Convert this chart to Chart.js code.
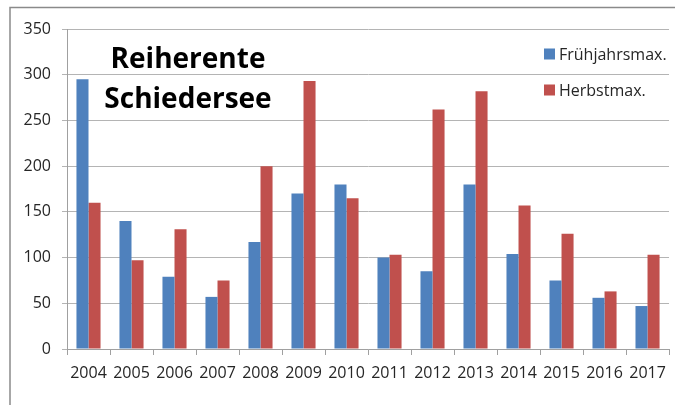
<!DOCTYPE html>
<html>
<head>
<meta charset="utf-8">
<script src="https://cdn.jsdelivr.net/npm/chart.js@4.4.0/dist/chart.umd.min.js"></script>
<style>
    html, body { margin: 0; padding: 0; background: #fff; }
    #wrap { position: relative; width: 675px; height: 405px; }
</style>
</head>
<body>
<div id="wrap"><canvas id="chart" width="675" height="405"></canvas></div>
<script>
// Daten
const jahre = ['2004', '2005', '2006', '2007', '2008', '2009', '2010', '2011', '2012', '2013', '2014', '2015', '2016', '2017'];
const fruehjahrsmax = [295, 140, 79, 57, 117, 170, 180, 100, 85, 180, 104, 75, 56, 47];
const herbstmax = [160, 97, 131, 75, 200, 293, 165, 103, 262, 282, 157, 126, 63, 103];
const titelZeilen = ['Reiherente', 'Schiedersee'];
const yTicks = [0, 50, 100, 150, 200, 250, 300, 350];

const BLAU = '#4F81BD';
const ROT = '#C0504D';
const SCHRIFT = '"Open Sans", "Liberation Sans", sans-serif';

// Rahmen, Titel und Legende im Diagrammbereich
const extrasPlugin = {
    id: 'extras',
    afterDraw(chart) {
        const ctx = chart.ctx;
        const area = chart.chartArea;
        ctx.save();

        // Rahmen oben und links
        ctx.strokeStyle = '#8a8a8a';
        ctx.lineWidth = 1.5;
        ctx.beginPath();
        ctx.moveTo(10, 405);
        ctx.lineTo(10, 7.5);
        ctx.lineTo(675, 7.5);
        ctx.stroke();

        // Titel
        ctx.fillStyle = '#000';
        ctx.font = 'bold 28px ' + SCHRIFT;
        ctx.textAlign = 'center';
        ctx.textBaseline = 'alphabetic';
        titelZeilen.forEach((zeile, i) => {
            ctx.fillText(zeile, area.left + 121, area.top + 39 + i * 40);
        });

        // Legende
        ctx.font = '16px ' + SCHRIFT;
        ctx.textAlign = 'left';
        ctx.textBaseline = 'middle';
        chart.data.datasets.forEach((ds, i) => {
            const y = area.top + 25 + i * 36;
            ctx.fillStyle = ds.backgroundColor;
            ctx.fillRect(area.left + 477, y - 5.5, 11, 11);
            ctx.fillStyle = '#262626';
            ctx.fillText(ds.label, area.left + 492, y + 1);
        });

        ctx.restore();
    }
};

const chartConfig = {
    type: 'bar',
    data: {
        labels: jahre,
        datasets: [
            {
                label: 'Frühjahrsmax.',
                data: fruehjahrsmax,
                backgroundColor: BLAU,
                borderWidth: 0,
                categoryPercentage: 0.56,
                barPercentage: 1.0
            },
            {
                label: 'Herbstmax.',
                data: herbstmax,
                backgroundColor: ROT,
                borderWidth: 0,
                categoryPercentage: 0.56,
                barPercentage: 1.0
            }
        ]
    },
    options: {
        responsive: false,
        animation: false,
        layout: {
            padding: { left: 0, top: 29, right: 5, bottom: 0 }
        },
        plugins: {
            legend: { display: false },
            tooltip: { enabled: false }
        },
        scales: {
            y: {
                min: 0,
                max: 350,
                afterFit: function(scale) { scale.width = 67; },
                afterBuildTicks: function(scale) {
                    scale.ticks = yTicks.map(v => ({ value: v }));
                },
                grid: {
                    color: '#b4b4b4',
                    lineWidth: 1,
                    tickLength: 5
                },
                border: { color: '#a0a0a0', width: 1 },
                ticks: {
                    padding: 11,
                    color: '#262626',
                    font: { family: SCHRIFT, size: 16 }
                }
            },
            x: {
                afterFit: function(scale) { scale.height = 56; },
                grid: {
                    drawOnChartArea: false,
                    drawTicks: true,
                    tickLength: 6,
                    color: '#a0a0a0'
                },
                border: { color: '#a0a0a0', width: 1 },
                ticks: {
                    padding: 9,
                    color: '#262626',
                    maxRotation: 0,
                    autoSkip: false,
                    font: { family: SCHRIFT, size: 16 }
                }
            }
        }
    },
    plugins: [extrasPlugin]
};

new Chart(document.getElementById('chart'), chartConfig);
</script>
</body>
</html>
